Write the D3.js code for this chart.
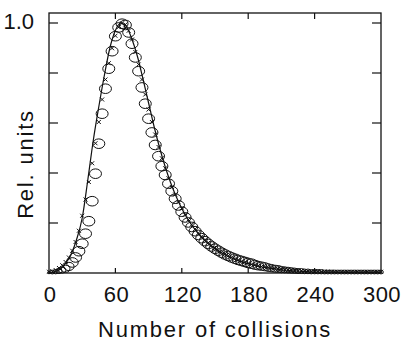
<!DOCTYPE html>
<html>
<head>
<meta charset="utf-8">
<script src="https://cdn.jsdelivr.net/npm/d3@7"></script>
<style>
  body { margin: 0; background: #fff; }
  text { font-family: "Liberation Sans", Arial, sans-serif; fill: #111; }
</style>
</head>
<body>
<div class="chart"></div>
<script>
// theory curve (solid line)
var lineX = [0, 5, 10, 15, 20, 25, 30, 35, 40, 45, 50, 55, 60, 65,
    70, 75, 80, 85, 90, 95, 100, 105, 110, 115, 120, 125, 130, 135, 140, 145,
    150, 155, 160, 165, 170, 175, 180, 185, 190, 195, 200, 205, 210, 215, 220,
    225, 230, 235, 240, 245, 250, 255, 260, 265, 270, 275, 280, 285, 290, 295, 300];
var lineY = [0, 0.004, 0.015, 0.038, 0.075, 0.135, 0.22, 0.37, 0.53, 0.665, 0.79, 0.9, 0.97, 1.0,
    0.985, 0.935, 0.865, 0.775, 0.68, 0.585, 0.5, 0.425, 0.36, 0.305, 0.258, 0.218, 0.185, 0.157, 0.133, 0.113,
    0.096, 0.082, 0.07, 0.06, 0.051, 0.043, 0.037, 0.031, 0.026, 0.022, 0.019, 0.016, 0.013, 0.011, 0.009,
    0.008, 0.006, 0.005, 0.004, 0.004, 0.003, 0.003, 0.002, 0.002, 0.002, 0.001, 0.001, 0.001, 0.001, 0.001, 0.001];

// sample points (every 3 collisions)
var pointX = [0, 3, 6, 9, 12, 15, 18, 21, 24, 27, 30, 33, 36, 39, 42, 45, 48, 51, 54, 57,
    60, 63, 66, 69, 72, 75, 78, 81, 84, 87, 90, 93, 96, 99, 102, 105, 108, 111, 114, 117,
    120, 123, 126, 129, 132, 135, 138, 141, 144, 147, 150, 153, 156, 159, 162, 165, 168, 171, 174, 177,
    180, 183, 186, 189, 192, 195, 198, 201, 204, 207, 210, 213, 216, 219, 222, 225, 228, 231, 234, 237,
    240, 243, 246, 249, 252, 255, 258, 261, 264, 267, 270, 273, 276, 279, 282, 285, 288, 291, 294, 297, 300];

var circleY = [0, 0.001, 0.002, 0.004, 0.007, 0.012, 0.02, 0.035, 0.055, 0.08, 0.11, 0.15, 0.2, 0.28, 0.39, 0.51, 0.63, 0.73, 0.81, 0.88,
    0.94, 0.975, 0.99, 0.985, 0.955, 0.91, 0.855, 0.8, 0.735, 0.67, 0.61, 0.555, 0.505, 0.46, 0.42, 0.385, 0.35, 0.32, 0.29, 0.263,
    0.238, 0.215, 0.195, 0.177, 0.16, 0.145, 0.132, 0.12, 0.109, 0.099, 0.09, 0.082, 0.074, 0.067, 0.061, 0.055, 0.05, 0.045, 0.041, 0.037,
    0.033, 0.03, 0.026, 0.023, 0.021, 0.019, 0.016, 0.014, 0.012, 0.011, 0.009, 0.008, 0.007, 0.006, 0.005, 0.004, 0.004, 0.003, 0.003, 0.002,
    0.002, 0.002, 0.002, 0.001, 0.001, 0.001, 0.001, 0.001, 0.001, 0.001, 0.001, 0.001, 0.001, 0.001, 0.001, 0.001, 0.001, 0.001, 0.001, 0.001, 0.001];

var crossY = [0.001, 0.003, 0.008, 0.016, 0.027, 0.04, 0.058, 0.085, 0.12, 0.165, 0.225, 0.29, 0.36, 0.435, 0.515, 0.6, 0.69, 0.77, 0.835, 0.895,
    0.945, 0.98, 0.995, 0.99, 0.965, 0.93, 0.88, 0.83, 0.77, 0.71, 0.65, 0.6, 0.55, 0.5, 0.455, 0.415, 0.375, 0.34, 0.31, 0.28,
    0.255, 0.23, 0.21, 0.19, 0.172, 0.156, 0.142, 0.129, 0.117, 0.106, 0.096, 0.087, 0.079, 0.072, 0.065, 0.059, 0.053, 0.048, 0.043, 0.039,
    0.035, 0.031, 0.028, 0.025, 0.022, 0.02, 0.018, 0.016, 0.014, 0.012, 0.011, 0.009, 0.008, 0.007, 0.006, 0.005, 0.005, 0.004, 0.004, 0.003,
    0.003, 0.003, 0.002, 0.002, 0.002, 0.002, 0.001, 0.001, 0.001, 0.001, 0.001, 0.001, 0.001, 0.001, 0.001, 0.001, 0.001, 0.001, 0.001, 0.001, 0.001];

var xTicks = [0, 60, 120, 180, 240, 300];
var yTicks = [0.2, 0.4, 0.6, 0.8, 1.0];

var w = 412,
    h = 341;

var svg = d3.select(".chart")
    .append("svg")
    .attr("width", w)
    .attr("height", h);

var x = d3.scaleLinear().domain([0, 300]).range([49, 381]);
var y = d3.scaleLinear().domain([0, 1.04]).range([273, 13]);

var frame = svg.append("g");

// frame box
frame.append("rect")
    .attr("x", x(0))
    .attr("y", y(1.04))
    .attr("width", x(300) - x(0))
    .attr("height", y(0) - y(1.04))
    .attr("fill", "none")
    .attr("stroke", "#111")
    .attr("stroke-width", 1.3);

// inward ticks: bottom, top, left, right
var inner = xTicks.slice(1, -1);
frame.selectAll(".tb").data(inner).enter().append("line")
    .attr("x1", d => x(d)).attr("x2", d => x(d))
    .attr("y1", y(0)).attr("y2", y(0) - 5)
    .attr("stroke", "#111").attr("stroke-width", 1.2);
frame.selectAll(".tt").data(inner).enter().append("line")
    .attr("x1", d => x(d)).attr("x2", d => x(d))
    .attr("y1", y(1.04)).attr("y2", y(1.04) + 6)
    .attr("stroke", "#111").attr("stroke-width", 1.2);
frame.selectAll(".tl").data(yTicks).enter().append("line")
    .attr("x1", x(0)).attr("x2", x(0) + 9)
    .attr("y1", d => y(d)).attr("y2", d => y(d))
    .attr("stroke", "#111").attr("stroke-width", 1.2);
frame.selectAll(".tr").data(yTicks).enter().append("line")
    .attr("x1", x(300)).attr("x2", x(300) - 9)
    .attr("y1", d => y(d)).attr("y2", d => y(d))
    .attr("stroke", "#111").attr("stroke-width", 1.2);

// tick labels
svg.selectAll(".xl").data(xTicks).enter().append("text")
    .attr("x", d => x(d) + 1)
    .attr("y", 302)
    .attr("text-anchor", "middle")
    .attr("font-size", 22)
    .attr("letter-spacing", 0.5)
    .text(d => d);

svg.append("text")
    .attr("x", 34)
    .attr("y", y(1.0) + 5.5)
    .attr("text-anchor", "end")
    .attr("font-size", 22)
    .text("1.0");

svg.append("text")
    .attr("x", 215)
    .attr("y", 337)
    .attr("text-anchor", "middle")
    .attr("font-size", 22)
    .attr("letter-spacing", 1.8)
    .text("Number of collisions");

svg.append("text")
    .attr("transform", "translate(33,164) rotate(-90)")
    .attr("text-anchor", "middle")
    .attr("font-size", 22)
    .attr("letter-spacing", 1.8)
    .text("Rel. units");

// solid theory line
var lineData = lineX.map((d, i) => [d, lineY[i]]);
svg.append("path")
    .datum(lineData)
    .attr("fill", "none")
    .attr("stroke", "#111")
    .attr("stroke-width", 1.2)
    .attr("d", d3.line()
        .x(d => x(d[0]))
        .y(d => y(d[1]))
        .curve(d3.curveMonotoneX));

// open ellipses, shrinking near the baseline
var rx = d3.scaleSqrt().domain([0, 0.03]).range([1.5, 6]).clamp(true);
var circData = pointX.map((d, i) => [d, circleY[i]]);
svg.selectAll(".c").data(circData).enter().append("ellipse")
    .attr("cx", d => x(d[0]))
    .attr("cy", d => y(d[1]) - rx(d[1]) * 0.3)
    .attr("rx", d => rx(d[1]))
    .attr("ry", d => rx(d[1]) * 0.8)
    .attr("fill", "none")
    .attr("stroke", "#111")
    .attr("stroke-width", 1);

// crosses
var crossData = pointX.map((d, i) => [d, crossY[i]]);
svg.selectAll(".x").data(crossData).enter().append("path")
    .attr("transform", d => "translate(" + x(d[0]) + "," + (y(d[1]) - 1) + ")")
    .attr("d", "M-2,-2L2,2M-2,2L2,-2")
    .attr("fill", "none")
    .attr("stroke", "#111")
    .attr("stroke-width", 1);
</script>
</body>
</html>
